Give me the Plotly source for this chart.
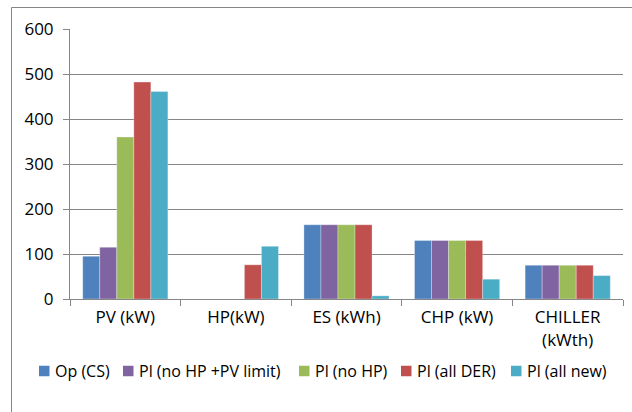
import plotly.graph_objects as go

categories = ["PV (kW)", "HP(kW)", "ES (kWh)", "CHP (kW)", "CHILLER<br>(kWth)"]
series_names = ["Op (CS)", "Pl (no HP +PV limit)", "Pl (no HP)", "Pl (all DER)", "Pl (all new)"]
op_cs = [95, 0, 165, 130, 75]
pl_no_hp_pv_limit = [115, 0, 165, 130, 75]
pl_no_hp = [360, 0, 165, 130, 75]
pl_all_der = [482, 76, 165, 130, 75]
pl_all_new = [461, 117, 7, 44, 52]
y_ticks = [0, 100, 200, 300, 400, 500, 600]

series_values = [op_cs, pl_no_hp_pv_limit, pl_no_hp, pl_all_der, pl_all_new]
colors = ["#4F81BD", "#8064A2", "#9BBB59", "#C0504D", "#4BACC6"]

font_family = "'Open Sans', 'Noto Sans', sans-serif"
axis_grey = "#868686"

# plot-area geometry in pixels
W, H = 632, 412
L, R, T, B = 70, 623, 29, 299


def px_x(px):
    return (px - L) / (R - L)


def px_y(py):
    return (B - py) / (B - T)


fig = go.Figure()
for name, vals, col in zip(series_names, series_values, colors):
    fig.add_trace(go.Bar(
        x=categories, y=vals, name=name, showlegend=False,
        marker=dict(color=col, line=dict(color="rgba(255,255,255,0.6)", width=0.5)),
    ))

# outer chart frame
shapes = [dict(
    type="rect", xref="paper", yref="paper",
    x0=px_x(11.5), x1=px_x(660), y0=px_y(440), y1=px_y(7.5),
    line=dict(color=axis_grey, width=1), fillcolor="rgba(0,0,0,0)", layer="below",
)]

# legend row: square swatch followed by its label
annotations = []
swatch_left = [39, 123, 299, 401, 511]
swatch_size = 10.5
legend_mid = 371
for name, col, sx in zip(series_names, colors, swatch_left):
    shapes.append(dict(
        type="rect", xref="paper", yref="paper",
        x0=px_x(sx), x1=px_x(sx + swatch_size),
        y0=px_y(legend_mid + swatch_size / 2), y1=px_y(legend_mid - swatch_size / 2),
        line=dict(width=0), fillcolor=col,
    ))
    annotations.append(dict(
        text=name, xref="paper", yref="paper",
        x=px_x(sx + swatch_size + 3), y=px_y(legend_mid),
        xanchor="left", yanchor="middle", showarrow=False,
        font=dict(family=font_family, size=16, color="#000000"),
    ))

fig.update_layout(
    width=W, height=H,
    margin=dict(l=L, r=W - R, t=T, b=H - B),
    paper_bgcolor="white", plot_bgcolor="white",
    barmode="group", bargap=0.23, bargroupgap=0,
    font=dict(family=font_family, size=16, color="#000000"),
    showlegend=False,
    xaxis=dict(
        type="category", tickson="boundaries", ticks="outside", ticklen=6,
        tickcolor=axis_grey, showline=True, linecolor=axis_grey, linewidth=1,
        showgrid=False, tickfont=dict(size=17), ticklabelstandoff=3, fixedrange=True,
    ),
    yaxis=dict(
        range=[0, 600], tickvals=y_ticks, ticks="outside", ticklen=6,
        tickcolor=axis_grey, showline=True, linecolor=axis_grey, linewidth=1,
        showgrid=True, gridcolor=axis_grey, gridwidth=1, zeroline=False,
        tickfont=dict(size=17), ticklabelstandoff=6, fixedrange=True,
    ),
    shapes=shapes,
    annotations=annotations,
)

fig.write_html("out.html")
